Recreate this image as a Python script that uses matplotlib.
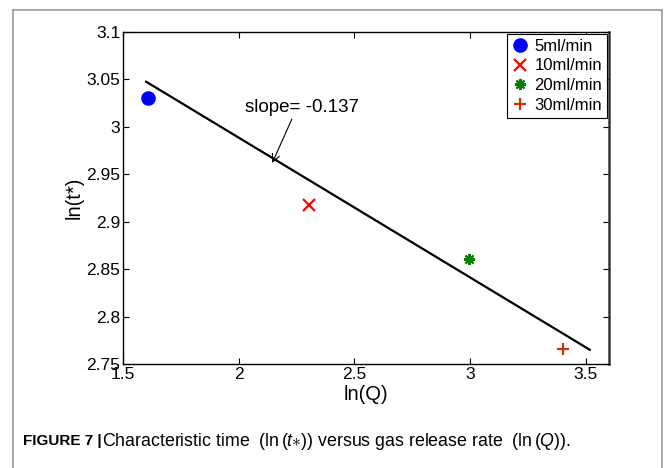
import matplotlib
matplotlib.use("Agg")
import matplotlib.pyplot as plt
from matplotlib.lines import Line2D

plt.rcParams['font.family'] = ['Liberation Sans', 'DejaVu Sans']
plt.rcParams['mathtext.fontset'] = 'custom'
plt.rcParams['mathtext.rm'] = 'Liberation Sans'
plt.rcParams['mathtext.it'] = 'Liberation Sans:italic'

# Data
labels = ["5ml/min", "10ml/min", "20ml/min", "30ml/min"]
ln_q = [1.609, 2.303, 2.996, 3.401]
ln_t = [3.030, 2.918, 2.861, 2.766]
markers = ["o", "x", (8, 2, 0), "+"]
colors = ["#0000ff", "#ff0000", "#008000", "#cc3300"]
fit_x = [1.60, 3.517]
fit_y = [3.0476, 2.765]
xticks = [1.5, 2, 2.5, 3, 3.5]
yticks = [2.75, 2.8, 2.85, 2.9, 2.95, 3.0, 3.05, 3.1]
ytick_labels = ["2.75", "2.8", "2.85", "2.9", "2.95", "3", "3.05", "3.1"]
xtick_labels = ["1.5", "2", "2.5", "3", "3.5"]

fig = plt.figure(figsize=(6.66, 4.68), dpi=100)
ax = fig.add_axes([123/666, 1-364/468, (609-123)/666, (364-32)/468])

ax.plot(fit_x, fit_y, color='black', lw=1.6, zorder=2)
sizes = [9, 8, 8, 9]
for lab, x, y, m, c, s in zip(labels, ln_q, ln_t, markers, colors, sizes):
    mew = 1.6 if m in ('x', '+') else 1.5
    ax.plot([x], [y], linestyle='none', marker=m, color=c, markersize=s,
            markeredgewidth=mew, label=lab, zorder=3)

ax.set_xlim(1.5, 3.6)
ax.set_ylim(2.75, 3.1)
ax.set_xticks(xticks)
ax.set_xticklabels(xtick_labels)
ax.set_yticks(yticks)
ax.set_yticklabels(ytick_labels)
ax.tick_params(direction='in', top=True, right=True, labelsize=12.5, length=4, width=0.8)
ax.tick_params(axis='x', pad=2)
ax.tick_params(axis='y', pad=2)
for sp in ax.spines.values():
    sp.set_linewidth(1.0)
ax.spines['right'].set_linewidth(1.8)
ax.spines['right'].set_color('#333333')

ax.set_xlabel("ln(Q)", fontsize=14.5, labelpad=2)
ax.set_ylabel("ln(t*)", fontsize=14.5, labelpad=2)

ax.annotate("slope= -0.137", xy=(2.145, 2.962), xytext=(2.028, 3.02),
            fontsize=13.5, va='center', ha='left',
            arrowprops=dict(arrowstyle='->', color='black', lw=0.8,
                            shrinkA=0, shrinkB=0,
                            relpos=(0.42, 0.0)))

leg = ax.legend(loc='upper right', fontsize=12, frameon=True, fancybox=False,
                edgecolor='black', framealpha=1, borderaxespad=0.1,
                handlelength=0.9, handletextpad=0.45, borderpad=0.3,
                labelspacing=0.28)
leg.get_frame().set_linewidth(0.8)

# Caption
fig.text(23/666, 1-441/468, "FIGURE 7 |", fontsize=11, fontweight='bold',
         ha='left', va='center')
fig.text(102/666, 1-441/468,
         r"Characteristic time  $(\mathrm{ln}\,(t{\ast}))$ versus gas release rate  $(\mathrm{ln}\,(Q))$.",
         fontsize=12.8, ha='left', va='center')

# Gray frame lines
gray = '#999999'
fig.add_artist(Line2D([13/666, 13/666], [0, 1-10/468], transform=fig.transFigure, color=gray, lw=1.2))
fig.add_artist(Line2D([13/666, 662/666], [1-10/468, 1-10/468], transform=fig.transFigure, color=gray, lw=1.2))
fig.add_artist(Line2D([662/666, 662/666], [0, 1-10/468], transform=fig.transFigure, color=gray, lw=1.2))

fig.savefig("out.png", dpi=100)
